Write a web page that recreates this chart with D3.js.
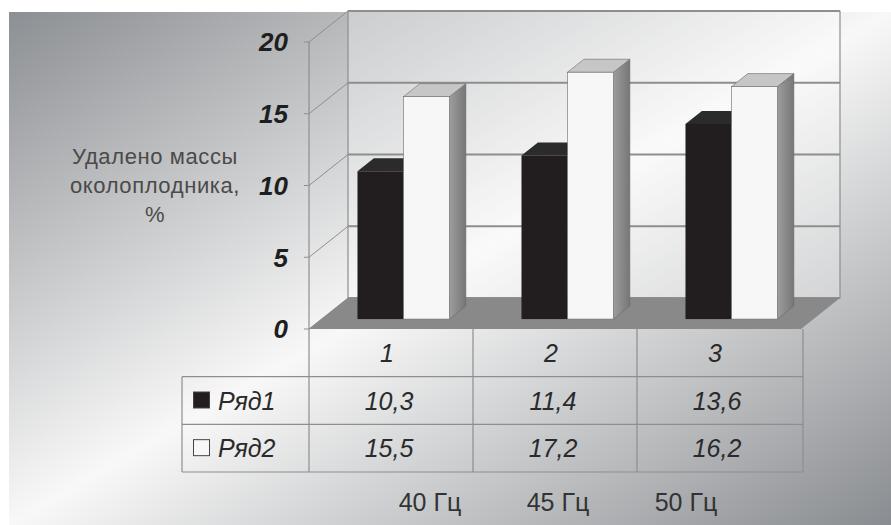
<!DOCTYPE html>
<html>
<head>
<meta charset="utf-8">
<script src="https://cdn.jsdelivr.net/npm/d3@7"></script>
<style>
  body { margin: 0; background: #fff; }
  svg { display: block; font-family: "Liberation Sans", Arial, sans-serif; }
</style>
</head>
<body>
<div id="chart"></div>
<script>
// data
const categories = ["1", "2", "3"];
const freqLabels = ["40 Гц", "45 Гц", "50 Гц"];
const seriesNames = ["Ряд1", "Ряд2"];
const ryad1 = [10.3, 11.4, 13.6];
const ryad2 = [15.5, 17.2, 16.2];
const yTicks = [0, 5, 10, 15, 20];
const axisTitle = ["Удалено массы", "околоплодника,", "%"];

const width = 891, height = 525;
const series = [ryad1, ryad2];
const fmt = v => d3.format(".1f")(v).replace(".", ",");

const svg = d3.select("#chart").append("svg")
  .attr("width", width).attr("height", height);

const defs = svg.append("defs");
const bg = defs.append("linearGradient").attr("id", "bg")
  .attr("x1", 0).attr("y1", 0).attr("x2", 1).attr("y2", 1);
bg.append("stop").attr("offset", 0).attr("stop-color", "#8c8f93");
bg.append("stop").attr("offset", 0.5).attr("stop-color", "#f8f8f8");
bg.append("stop").attr("offset", 1).attr("stop-color", "#898c90");
const side = defs.append("linearGradient").attr("id", "side")
  .attr("x1", 0).attr("y1", 0).attr("x2", 1).attr("y2", 0);
side.append("stop").attr("offset", 0).attr("stop-color", "#9d9d9d");
side.append("stop").attr("offset", 1).attr("stop-color", "#767676");

svg.append("rect").attr("x", 9).attr("y", 12)
  .attr("width", width - 9).attr("height", height - 12).attr("fill", "url(#bg)");

// scales (front plane) + depth offset for the 3d look
const x = d3.scaleBand().domain(categories).range([309, 801]);
const inner = d3.scaleBand().domain(d3.range(series.length))
  .range([0, x.bandwidth()]).paddingInner(0).paddingOuter(0.783);
const y = d3.scaleLinear().domain([0, 20]).range([329, 42]);
const DX = 39, DY = 31;
const zFront = 0.32, zBack = 0.74;
const proj = (xf, v, z) => [xf + DX * z, y(v) - DY * z];
const poly = pts => "M" + pts.map(p => p.join(",")).join("L") + "Z";

const x0 = x.range()[0], x1 = x.range()[1];
const lineCol = "#8e8e8e";

// back wall
svg.append("path")
  .attr("d", poly([proj(x0, 20, 1), proj(x1, 20, 1), proj(x1, 0, 1), proj(x0, 0, 1)]))
  .attr("fill", "#ffffff").attr("fill-opacity", 0.3)
  .attr("stroke", lineCol).attr("stroke-width", 1.2);

const grid = svg.append("g").attr("stroke", lineCol).attr("fill", "none");
yTicks.forEach(t => {
  const a = proj(x0, t, 1), b = proj(x1, t, 1), c = proj(x0, t, 0);
  grid.append("line").attr("x1", a[0]).attr("y1", a[1]).attr("x2", b[0]).attr("y2", b[1])
    .attr("stroke-width", 1.8);
  grid.append("line").attr("x1", c[0]).attr("y1", c[1]).attr("x2", a[0]).attr("y2", a[1])
    .attr("stroke-width", 1);
  grid.append("line").attr("x1", c[0] - 5).attr("y1", c[1]).attr("x2", c[0]).attr("y2", c[1])
    .attr("stroke-width", 1);
});

// floor
svg.append("path")
  .attr("d", poly([proj(x0, 0, 0), proj(x1, 0, 0), proj(x1, 0, 1), proj(x0, 0, 1)]))
  .attr("fill", "#898989");

// front axis line
svg.append("line").attr("x1", x0).attr("x2", x0).attr("y1", y(20)).attr("y2", 472)
  .attr("stroke", lineCol).attr("stroke-width", 1.2);

// bars
const styles = [
  { front: "#221e1f", top: "#2b2b2b", side: "#1a1a1a", stroke: "none" },
  { front: "#f7f7f7", top: "#c6c6c6", side: "url(#side)", stroke: "#6a6a6a" }
];
const bars = [];
categories.forEach((c, i) => series.forEach((s, k) => bars.push({ c, k, v: s[i] })));

const barG = svg.append("g").selectAll("g").data(bars).join("g");
barG.each(function (d) {
  const g = d3.select(this), st = styles[d.k];
  const l = x(d.c) + inner(d.k), r = l + inner.bandwidth();
  g.append("path")
    .attr("d", poly([proj(r, 0, zFront), proj(r, 0, zBack), proj(r, d.v, zBack), proj(r, d.v, zFront)]))
    .attr("fill", st.side).attr("stroke", st.stroke).attr("stroke-width", 0.6);
  g.append("path")
    .attr("d", poly([proj(l, d.v, zFront), proj(r, d.v, zFront), proj(r, d.v, zBack), proj(l, d.v, zBack)]))
    .attr("fill", st.top).attr("stroke", st.stroke).attr("stroke-width", 0.6);
  const p = proj(l, d.v, zFront), q = proj(r, 0, zFront);
  g.append("rect").attr("x", p[0]).attr("y", p[1])
    .attr("width", q[0] - p[0]).attr("height", q[1] - p[1])
    .attr("fill", st.front).attr("stroke", st.stroke).attr("stroke-width", 0.6);
});

// y axis labels
svg.append("g").selectAll("text").data(yTicks).join("text")
  .attr("x", 288).attr("y", d => y(d)).attr("dy", "0.36em")
  .attr("text-anchor", "end").attr("font-size", 26)
  .attr("font-weight", "bold").attr("font-style", "italic").attr("fill", "#1e1e1e")
  .text(d => d);

svg.append("g").selectAll("text").data(axisTitle).join("text")
  .attr("x", 155).attr("y", (d, i) => 164 + i * 29)
  .attr("text-anchor", "middle").attr("font-size", 22).attr("fill", "#4a4a4a")
  .attr("letter-spacing", 0.6)
  .text(d => d);

// data table
const rows = d3.scaleBand().domain(["head"].concat(seriesNames)).range([y(0), 472]);
const labelLeft = 182;
const tbl = svg.append("g").attr("stroke", lineCol).attr("stroke-width", 1.2);
seriesNames.forEach(n => {
  tbl.append("line").attr("x1", labelLeft).attr("x2", x1 + 2)
    .attr("y1", rows(n)).attr("y2", rows(n));
});
tbl.append("line").attr("x1", labelLeft).attr("x2", x1 + 2)
  .attr("y1", rows.range()[1]).attr("y2", rows.range()[1]);
tbl.append("line").attr("x1", labelLeft).attr("x2", labelLeft)
  .attr("y1", rows(seriesNames[0])).attr("y2", rows.range()[1]);
categories.forEach(c => {
  const xr = x(c) + x.bandwidth() + (c === categories[categories.length - 1] ? 2 : 0);
  tbl.append("line").attr("x1", xr).attr("x2", xr).attr("y1", y(0)).attr("y2", rows.range()[1]);
});

const cellText = (sel) => sel.attr("font-size", 25).attr("font-style", "italic")
  .attr("fill", "#2a2a2a").attr("dy", "0.36em");

svg.append("g").selectAll("text").data(categories).join("text")
  .attr("x", d => x(d) + x.bandwidth() / 2 - 4)
  .attr("y", rows("head") + rows.bandwidth() / 2)
  .attr("text-anchor", "middle").call(cellText).text(d => d);

series.forEach((s, k) => {
  const ry = rows(seriesNames[k]) + rows.bandwidth() / 2;
  svg.append("g").selectAll("text").data(s).join("text")
    .attr("x", (d, i) => x(categories[i]) + x.bandwidth() / 2 - 2)
    .attr("y", ry).attr("text-anchor", "middle").call(cellText).text(d => fmt(d));
  svg.append("rect").attr("x", 193.5).attr("y", ry - 8.5).attr("width", 16).attr("height", 16)
    .attr("fill", styles[k].front).attr("stroke", "#444").attr("stroke-width", 1);
  svg.append("text").attr("x", 218).attr("y", ry).call(cellText).text(seriesNames[k]);
});

// frequency captions
const fx = d3.scalePoint().domain(freqLabels).range([430, 686]);
svg.append("g").selectAll("text").data(freqLabels).join("text")
  .attr("x", d => fx(d)).attr("y", 511).attr("text-anchor", "middle")
  .attr("font-size", 25).attr("fill", "#333").text(d => d);
</script>
</body>
</html>
